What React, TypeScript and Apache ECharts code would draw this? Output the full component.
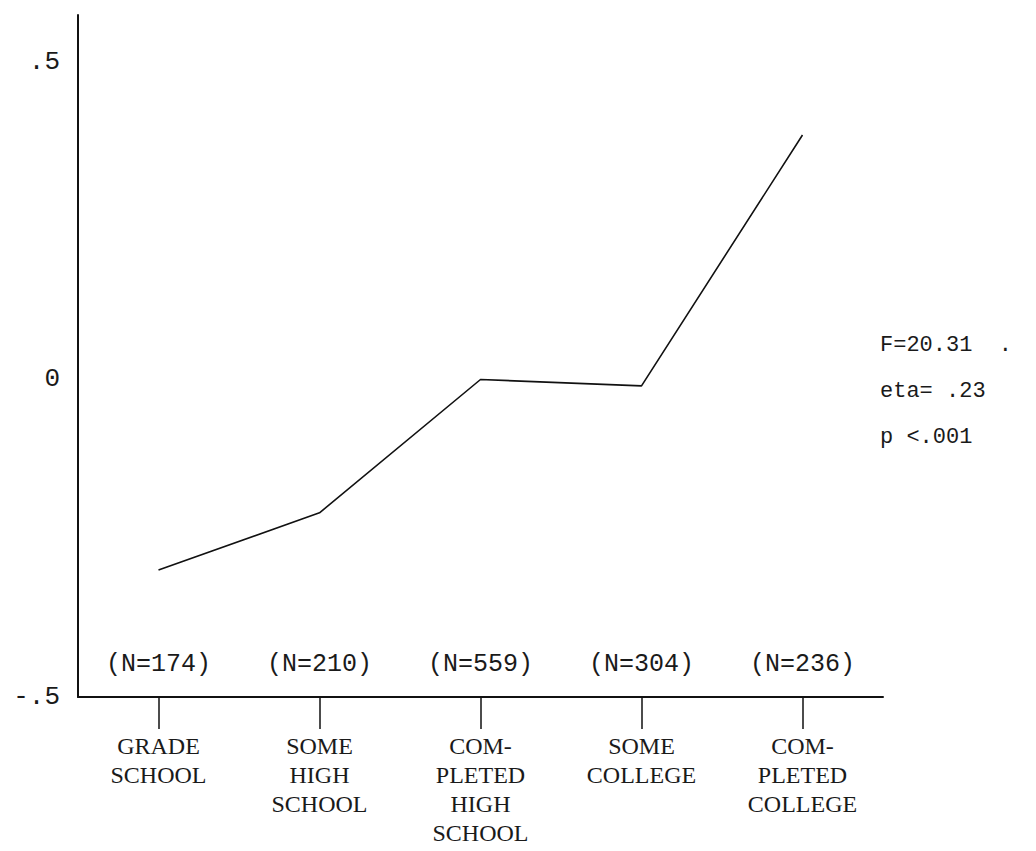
import React, { useEffect, useRef } from "react";
import * as echarts from "echarts";

// Education levels (category axis) and their group sizes
const categories = [
  "GRADE\nSCHOOL",
  "SOME\nHIGH\nSCHOOL",
  "COM-\nPLETED\nHIGH\nSCHOOL",
  "SOME\nCOLLEGE",
  "COM-\nPLETED\nCOLLEGE",
];
const groupSizes = ["(N=174)", "(N=210)", "(N=559)", "(N=304)", "(N=236)"];

// Mean deviation score for each education level
const meanScores = [-0.3, -0.21, 0.0, -0.01, 0.385];

// Y tick labels
const yTickValues = [-0.5, 0, 0.5];
const yTickLabels = ["-.5", "0", ".5"];

// Test statistics printed at the right
const statLines = ["F=20.31  .", "eta= .23", "p <.001"];

const MONO_FONT = "'Liberation Mono', 'DejaVu Sans Mono', monospace";
const SERIF_FONT = "'Liberation Serif', 'DejaVu Serif', serif";

export default function App() {
  const ref = useRef<HTMLDivElement>(null);

  useEffect(() => {
    if (!ref.current) return;
    const chart = echarts.init(ref.current, null, { renderer: "svg" });

    const option = {
      animation: false,
      backgroundColor: "#ffffff",
      grid: { left: 78, right: 153, top: 15, bottom: 154, containLabel: false },
      xAxis: [
        {
          type: "category",
          position: "bottom",
          data: categories,
          boundaryGap: true,
          axisLine: { show: true, onZero: false, lineStyle: { color: "#111", width: 2 } },
          axisTick: {
            show: true,
            alignWithLabel: true,
            length: 32,
            lineStyle: { color: "#111", width: 1.5 },
          },
          axisLabel: {
            interval: 0,
            margin: 34,
            color: "#1a1a1a",
            fontFamily: SERIF_FONT,
            fontSize: 24,
            lineHeight: 29,
            align: "center",
            verticalAlign: "top",
          },
          splitLine: { show: false },
        },
        {
          type: "category",
          position: "bottom",
          data: groupSizes,
          boundaryGap: true,
          axisLine: { show: false, onZero: false },
          axisTick: { show: false },
          axisLabel: {
            inside: true,
            interval: 0,
            margin: 20,
            color: "#1a1a1a",
            fontFamily: MONO_FONT,
            fontSize: 25,
          },
          splitLine: { show: false },
        },
      ],
      yAxis: {
        type: "value",
        min: -0.5,
        max: 0.574,
        interval: 0.5,
        axisLine: { show: true, lineStyle: { color: "#111", width: 2 } },
        axisTick: { show: false },
        splitLine: { show: false },
        axisLabel: {
          margin: 18,
          color: "#1a1a1a",
          fontFamily: MONO_FONT,
          fontSize: 26,
          formatter: (v: number) => {
            const i = yTickValues.findIndex((t) => Math.abs(t - v) < 1e-6);
            return i >= 0 ? yTickLabels[i] : "";
          },
        },
      },
      series: [
        {
          type: "line",
          xAxisIndex: 0,
          data: meanScores,
          symbol: "none",
          lineStyle: { color: "#111", width: 1.6 },
        },
      ],
      graphic: statLines.map((t, i) => ({
        type: "text",
        left: 880,
        top: 334 + i * 46,
        style: {
          text: t,
          fill: "#1a1a1a",
          font: `22px 'Liberation Mono', monospace`,
        },
      })),
    };

    chart.setOption(option);
    return () => chart.dispose();
  }, []);

  return (
    <div
      ref={ref}
      style={{ position: "fixed", left: 0, top: 0, width: 1036, height: 851, background: "#fff" }}
    />
  );
}
